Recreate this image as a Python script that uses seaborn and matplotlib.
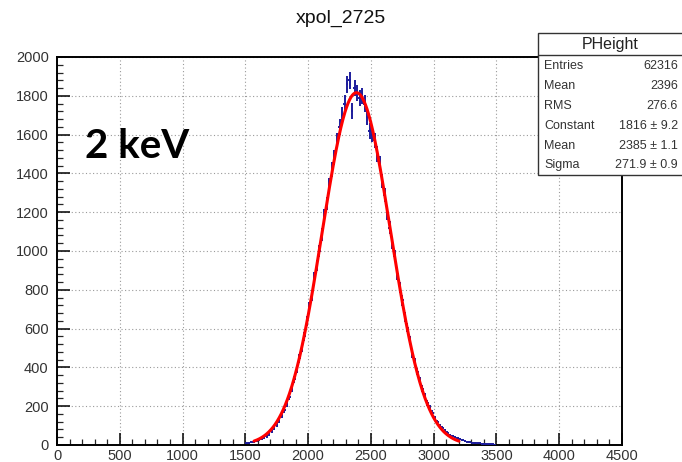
import numpy as np
import pandas as pd
import matplotlib
matplotlib.use("Agg")
import matplotlib.pyplot as plt
from matplotlib.ticker import MultipleLocator
from matplotlib.patches import Rectangle
from matplotlib.lines import Line2D
import seaborn as sns

# Pulse-height histogram (20-unit bins from 1500 to 3500)
bin_lo = 1500
bin_width = 20
counts = [
    8, 11, 13, 17, 21, 24, 30, 36, 45, 55,
    70, 86, 104, 122, 150, 178, 210, 250, 290, 338,
    390, 446, 500, 560, 640, 712, 770, 860, 925, 1000,
    1085, 1180, 1245, 1340, 1420, 1480, 1570, 1640, 1700, 1760,
    1860, 1880, 1720, 1840, 1815, 1790, 1800, 1760, 1690, 1620,
    1600, 1570, 1500, 1450, 1360, 1290, 1195, 1120, 1040, 975,
    880, 810, 745, 660, 605, 540, 470, 430, 378, 330,
    290, 250, 218, 190, 165, 140, 120, 100, 88, 75,
    62, 52, 46, 40, 34, 30, 26, 22, 18, 16,
    12, 11, 9, 8, 6, 5, 4, 3, 3, 2,
]

# Gaussian fit parameters and summary statistics
fit_constant, fit_constant_err = 1816, 9.2
fit_mean, fit_mean_err = 2385, 1.1
fit_sigma, fit_sigma_err = 271.9, 0.9
entries = 62316
hist_mean = 2396
hist_rms = 276.6

title = "xpol_2725"
energy_label = "2 keV"
x_ticks = [0, 500, 1000, 1500, 2000, 2500, 3000, 3500, 4000, 4500]
y_ticks = [0, 200, 400, 600, 800, 1000, 1200, 1400, 1600, 1800, 2000]

sns.set_style("white")
plt.rcParams["font.family"] = ["Liberation Sans", "DejaVu Sans"]

fig = plt.figure(figsize=(6.82, 4.62), dpi=100)
ax = fig.add_axes([57 / 682, 1 - 445 / 462, (622 - 57) / 682, (445 - 57) / 462])

centers = bin_lo + bin_width * (np.arange(len(counts)) + 0.5)
vals = np.array(counts, dtype=float)
hist_df = pd.DataFrame({"x": centers, "y": vals})

# histogram drawn as error crosses
ax.errorbar(hist_df["x"], hist_df["y"], xerr=bin_width / 2, yerr=np.sqrt(hist_df["y"]),
            fmt="none", ecolor="#1c1c9c", elinewidth=1.4, capsize=0, zorder=3)

# fitted gaussian over mean +/- 3 sigma
xf = np.linspace(fit_mean - 3 * fit_sigma, fit_mean + 3 * fit_sigma, 400)
fit_df = pd.DataFrame({"x": xf,
                       "y": fit_constant * np.exp(-0.5 * ((xf - fit_mean) / fit_sigma) ** 2)})
sns.lineplot(data=fit_df, x="x", y="y", ax=ax, color="#ff0000", linewidth=2.2, zorder=4)

ax.set_xlim(0, 4500)
ax.set_ylim(0, 2000)
ax.set_xlabel("")
ax.set_ylabel("")
ax.set_xticks(x_ticks)
ax.set_yticks(y_ticks)
ax.set_xticklabels([str(t) for t in x_ticks])
ax.set_yticklabels([str(t) for t in y_ticks])
ax.xaxis.set_minor_locator(MultipleLocator(100))
ax.yaxis.set_minor_locator(MultipleLocator(40))
ax.tick_params(axis="both", which="major", direction="in", length=9, width=1.1,
               labelsize=10.5, colors="black", bottom=True, left=True, top=False, right=False)
ax.tick_params(axis="both", which="minor", direction="in", length=4.5, width=0.9,
               bottom=True, left=True, top=False, right=False)
ax.tick_params(axis="y", pad=6)
ax.tick_params(axis="x", pad=3)
for lab in ax.get_xticklabels() + ax.get_yticklabels():
    lab.set_color("#333333")

ax.grid(True, which="major", color="#9a9a9a", linestyle=(0, (1, 2.2)), linewidth=0.8, zorder=0)
for s in ax.spines.values():
    s.set_color("black")
    s.set_linewidth(1.4)

fig.text(341 / 682, 1 - 18 / 462, title, ha="center", va="center", fontsize=14, color="#111111")
ax.text(0.05, 0.77, energy_label, transform=ax.transAxes, fontsize=29,
        fontweight="bold", family=["Lato", "DejaVu Sans"], ha="left", va="center", color="black")

# statistics box
box_l, box_r, box_t, box_b, head_b = 538, 684, 33, 175, 55
fig.patches.append(Rectangle((box_l / 682, 1 - box_b / 462), (box_r - box_l) / 682,
                             (box_b - box_t) / 462, transform=fig.transFigure,
                             facecolor="white", edgecolor="#333333", linewidth=1.0, zorder=10))
fig.lines.append(Line2D([box_l / 682, box_r / 682], [1 - head_b / 462] * 2,
                        transform=fig.transFigure, color="#333333", linewidth=1.0, zorder=11))
fig.text((box_l + 682) / 2 / 682, 1 - 44 / 462, "PHeight", ha="center", va="center",
         fontsize=11.5, color="#222222", zorder=12)
rows = [
    ("Entries", f"{entries}"),
    ("Mean", f"{hist_mean}"),
    ("RMS", f"{hist_rms}"),
    ("Constant", f"{fit_constant} \u00b1 {fit_constant_err}"),
    ("Mean", f"{fit_mean} \u00b1 {fit_mean_err}"),
    ("Sigma", f"{fit_sigma} \u00b1 {fit_sigma_err}"),
]
row_y = [66, 86, 106, 126, 146, 165]
for (name, value), yy in zip(rows, row_y):
    fig.text(544 / 682, 1 - yy / 462, name, ha="left", va="center", fontsize=9,
             color="#333333", zorder=12)
    fig.text(678 / 682, 1 - yy / 462, value, ha="right", va="center", fontsize=9,
             color="#333333", zorder=12)

fig.savefig("out.png", dpi=100)
